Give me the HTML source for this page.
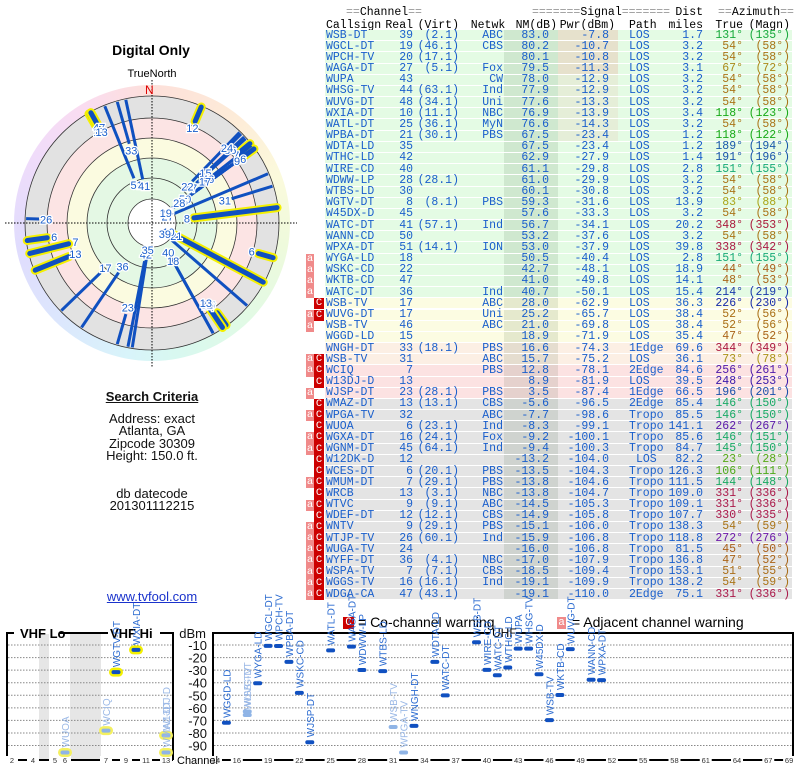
<!DOCTYPE html>
<html><head><meta charset="utf-8">
<style>
body{margin:0;width:800px;height:768px;overflow:hidden;background:#fff;font-family:"Liberation Sans",sans-serif;position:relative}
.abs{position:absolute;white-space:nowrap}
.mono{font-family:"Liberation Mono",monospace;font-size:11.5px}
.ctr{transform:translateX(-50%);text-align:center}
.info{font-size:13px;color:#111;line-height:12.3px}
</style></head><body>
<script>
const callsigns=["WSB-DT","WGCL-DT","WPCH-TV","WAGA-DT","WUPA","WHSG-TV","WUVG-DT","WXIA-DT","WATL-DT","WPBA-DT","WDTA-LD","WTHC-LD","WIRE-CD","WDWW-LP","WTBS-LD","WGTV-DT","W45DX-D","WATC-DT","WANN-CD","WPXA-DT","WYGA-LD","WSKC-CD","WKTB-CD","WATC-DT","WSB-TV","WUVG-DT","WSB-TV","WGGD-LD","WNGH-DT","WSB-TV","WCIQ","W13DJ-D","WJSP-DT","WMAZ-DT","WPGA-TV","WUOA","WGXA-DT","WGNM-DT","W12DK-D","WCES-DT","WMUM-DT","WRCB","WTVC","WDEF-DT","WNTV","WTJP-TV","WUGA-TV","WYFF-DT","WSPA-TV","WGGS-TV","WDGA-CA"];
const realCh=[39,19,20,27,43,44,48,10,25,21,35,42,40,28,30,8,45,41,50,51,18,22,47,36,17,17,46,15,33,31,7,13,23,13,32,6,16,45,12,6,7,13,9,12,9,26,24,36,7,16,47];
const virtCh=["(2.1)","(46.1)","(17.1)","(5.1)","","(63.1)","(34.1)","(11.1)","(36.1)","(30.1)","","","","(28.1)","","(8.1)","","(57.1)","","(14.1)","","","","","","","","","(18.1)","","","","(28.1)","(13.1)","","(23.1)","(24.1)","(64.1)","","(20.1)","(29.1)","(3.1)","(9.1)","(12.1)","(29.1)","(60.1)","","(4.1)","(7.1)","(16.1)","(43.1)"];
const networks=["ABC","CBS","","Fox","CW","Ind","Uni","NBC","MyN","PBS","","","","","","PBS","","Ind","","ION","","","","Ind","ABC","Uni","ABC","","PBS","ABC","PBS","","PBS","CBS","ABC","Ind","Fox","Ind","","PBS","PBS","NBC","ABC","CBS","PBS","Ind","","NBC","CBS","Ind",""];
const nmDb=[83.0,80.2,80.1,79.5,78.0,77.9,77.6,76.9,76.6,67.5,67.5,62.9,61.1,61.0,60.1,59.3,57.6,56.7,53.2,53.0,50.5,42.7,41.0,40.7,28.0,25.2,21.0,18.9,16.6,15.7,12.8,8.9,3.5,-5.6,-7.7,-8.3,-9.2,-9.4,-13.2,-13.5,-13.8,-13.8,-14.5,-14.9,-15.1,-15.9,-16.0,-17.0,-18.5,-19.1,-19.1];
const pwrDbm=[-7.8,-10.7,-10.8,-11.3,-12.9,-12.9,-13.3,-13.9,-14.3,-23.4,-23.4,-27.9,-29.8,-29.9,-30.8,-31.6,-33.3,-34.1,-37.6,-37.9,-40.4,-48.1,-49.8,-50.1,-62.9,-65.7,-69.8,-71.9,-74.3,-75.2,-78.1,-81.9,-87.4,-96.5,-98.6,-99.1,-100.1,-100.3,-104.0,-104.3,-104.6,-104.7,-105.3,-105.8,-106.0,-106.8,-106.8,-107.9,-109.4,-109.9,-110.0];
const paths=["LOS","LOS","LOS","LOS","LOS","LOS","LOS","LOS","LOS","LOS","LOS","LOS","LOS","LOS","LOS","LOS","LOS","LOS","LOS","LOS","LOS","LOS","LOS","LOS","LOS","LOS","LOS","LOS","1Edge","LOS","2Edge","LOS","1Edge","2Edge","Tropo","Tropo","Tropo","Tropo","LOS","Tropo","Tropo","Tropo","Tropo","Tropo","Tropo","Tropo","Tropo","Tropo","Tropo","Tropo","2Edge"];
const distMi=[1.7,3.2,3.2,3.1,3.2,3.2,3.2,3.4,3.2,1.2,1.2,1.4,2.8,3.2,3.2,13.9,3.2,20.2,3.2,39.8,2.8,18.9,14.1,15.4,36.3,38.4,38.4,35.4,69.6,36.1,84.6,39.5,66.5,85.4,85.5,141.1,85.6,84.7,82.2,126.3,111.5,109.0,109.1,107.7,138.3,118.8,81.5,136.8,153.1,138.2,75.1];
const azTrue=[131,54,54,67,54,54,54,118,54,118,189,191,151,54,54,83,54,348,54,338,151,44,48,214,226,52,52,47,344,73,256,248,196,146,146,262,146,145,23,106,144,331,331,330,54,272,45,47,51,54,331];
const azMagn=[135,58,58,72,58,58,58,123,58,122,194,196,155,58,58,88,58,353,58,342,155,49,53,219,230,56,56,52,349,78,261,253,201,150,150,267,151,150,28,111,148,336,336,335,59,276,50,52,55,59,336];
const warnings=["","","","","","","","","","","","","","","","","","","","","a","a","a","a","C","aC","a","","","aC","aC","C","a","C","aC","C","aC","aC","C","C","aC","C","aC","C","aC","aC","aC","aC","aC","aC","aC"];
const dbmTicks=[-10,-20,-30,-40,-50,-60,-70,-80,-90];
const vhfTicks=[2,4,5,6,7,9,11,13];
const uhfTicks=[14,16,19,22,25,28,31,34,37,40,43,46,49,52,55,58,61,64,67,69];
</script>

<div class="abs ctr" style="left:151px;top:42px;font-size:14px;font-weight:bold">Digital Only</div>
<div class="abs ctr" style="left:152px;top:68px;font-size:11px">TrueNorth</div>
<div class="abs" style="left:14px;top:85px;width:276px;height:276px;border-radius:50%;background:conic-gradient(#fde0da,#fdecd8 40deg,#fbfadc 70deg,#eefadc 100deg,#e0fae6 140deg,#d8f8f0 170deg,#d8f4fa 190deg,#dce6fd 225deg,#e0dcfd 260deg,#f0dcfa 300deg,#fadcf0 330deg,#fde0da)"></div>
<svg class="abs" style="left:0;top:0" width="300" height="370" id="polar"></svg>

<div class="abs info ctr" style="left:152px;top:391px;font-weight:bold;text-decoration:underline">Search Criteria</div>
<div class="abs info ctr" style="left:152px;top:413px">Address: exact<br>Atlanta, GA<br>Zipcode 30309<br>Height: 150.0 ft.</div>
<div class="abs info ctr" style="left:152px;top:488px">db datecode<br>201301112215</div>
<div class="abs info ctr" style="left:152px;top:591px;color:#1a33cc;text-decoration:underline">www.tvfool.com</div>

<div id="table"></div>

<div class="abs" style="left:343px;top:617px;width:11px;height:12px;background:#c00;color:#fff;font-size:11px;line-height:12px;text-align:center;font-family:'Liberation Mono',monospace">C</div>
<div class="abs" style="left:358px;top:614px;font-size:14px">= Co-channel warning</div>
<div class="abs" style="left:557px;top:617px;width:9px;height:12px;background:#f08a8a;color:#fff;font-size:11px;line-height:12px;text-align:center;font-family:'Liberation Mono',monospace">a</div>
<div class="abs" style="left:572px;top:614px;font-size:14px">= Adjacent channel warning</div>

<svg class="abs" style="left:0;top:0" width="800" height="768" id="spec"></svg>

<script>
const NS="http://www.w3.org/2000/svg";
function mk(parent,tag,attrs,text){const e=document.createElementNS(NS,tag);for(const k in attrs)e.setAttribute(k,attrs[k]);if(text!==undefined)e.textContent=text;parent.appendChild(e);return e;}
function hueFor(a){const pts=[[0,350],[30,15],[54,38],[83,58],[118,120],[146,152],[190,215],[226,232],[256,262],[272,275],[331,340],[360,350]];for(let i=0;i<pts.length-1;i++){if(a>=pts[i][0]&&a<=pts[i+1][0]){const t=(a-pts[i][0])/(pts[i+1][0]-pts[i][0]);return pts[i][1]+t*(pts[i+1][1]-pts[i][1]);}}return 0;}
function azColor(a){const h=hueFor(a);return `hsl(${h},75%,38%)`;}

/* ---------- table ---------- */
const tbl=document.getElementById('table');
function txt(x,y,s,opts){const d=document.createElement('div');d.className='abs mono';d.style.top=y+'px';d.textContent=s;if(opts.right!==undefined){d.style.left=(opts.right-200)+'px';d.style.width='200px';d.style.textAlign='right';}else if(opts.center!==undefined){d.style.left=(opts.center-50)+'px';d.style.width='100px';d.style.textAlign='center';}else d.style.left=x+'px';if(opts.color)d.style.color=opts.color;tbl.appendChild(d);return d;}
let h;
h=txt(0,6,'==Channel==',{center:384});h.innerHTML='<span style="color:#999">==</span>Channel<span style="color:#999">==</span>';
h=txt(0,6,'',{center:582});h.innerHTML='<span style="color:#999">=======</span>Signal<span style="color:#999">=======</span>';
h=txt(0,6,'Dist',{right:703});
h=txt(0,6,'',{center:756});h.innerHTML='<span style="color:#999">==</span>Azimuth<span style="color:#999">==</span>';
const heads=[['Callsign',{},326,'callsign-header'],['Real',{right:413},0,'real-header'],['(Virt)',{right:459},0,'virt-header'],['Netwk',{center:488},0,'netwk-header'],['NM(dB)',{right:557},0,'nm-header'],['Pwr(dBm)',{right:615},0,'pwr-header'],['Path',{left:629},629,'path-header'],['miles',{right:703},0,'miles-header'],['True',{right:743},0,'true-header'],['(Magn)',{right:790},0,'magn-header']];
heads.forEach(([s,o,x,n])=>{const e=txt(x,19,s,o.left?{}:o);});
const RH=11.18;
function rowBg(nm){if(nm>=30)return '#e4fbe4';if(nm>=18)return '#fcfce2';if(nm>=15)return '#fcefe4';if(nm>=0)return '#fce2e2';return '#e4e4e4';}
for(let i=0;i<callsigns.length;i++){
  const y=30+i*RH;
  const bg=document.createElement('div');bg.className='abs';
  
  
  bg.style.cssText=`left:325px;top:${y}px;width:467px;height:${RH-1}px;background:${rowBg(nmDb[i])};`;
  tbl.appendChild(bg);
  const nmc=document.createElement('div');nmc.className='abs';
  
  
  nmc.style.cssText=`left:504px;top:${y}px;width:54px;height:${RH-1}px;background:rgba(0,40,0,0.09);`;tbl.appendChild(nmc);
  if(i<10){const pc=document.createElement('div');pc.className='abs';
    
    
    pc.style.cssText=`left:558px;top:${y}px;width:60px;height:${RH-1}px;background:rgba(255,0,0,${i<4?0.1:0.05});`;tbl.appendChild(pc);}
  const w=warnings[i];
  if(w.includes('a')){const a=document.createElement('div');a.className='abs mono';a.textContent='a';
    
    
    a.style.cssText=`left:306px;top:${y}px;width:8px;height:${RH}px;background:#f08a8a;color:#fff;line-height:${RH}px;text-align:center;font-size:10.5px`;tbl.appendChild(a);}
  if(w.includes('C')){const c=document.createElement('div');c.className='abs mono';c.textContent='C';
    
    
    c.style.cssText=`left:314px;top:${y}px;width:10px;height:${RH}px;background:#c00;color:#fff;line-height:${RH}px;text-align:center;font-size:10.5px`;tbl.appendChild(c);}
  const blue='#1a5fcc';const ty=y-1.5;
  let e;
  e=txt(326,ty,callsigns[i],{color:blue});
  e=txt(0,ty,String(realCh[i]),{right:413,color:blue});
  e=txt(0,ty,virtCh[i],{right:459,color:blue});
  e=txt(0,ty,networks[i],{right:503,color:blue});
  e=txt(0,ty,nmDb[i].toFixed(1),{right:549,color:blue});
  e=txt(0,ty,pwrDbm[i].toFixed(1),{right:609,color:blue});
  e=txt(paths[i]==='LOS'&&i===38?636:629,ty,paths[i],{color:blue});
  e=txt(0,ty,distMi[i].toFixed(1),{right:703,color:blue});
  const col=azColor(azTrue[i]);
  e=txt(0,ty,azTrue[i]+'°',{right:743,color:col});
  e=txt(0,ty,'('+azMagn[i]+'°)',{right:790,color:col});
}

/* ---------- polar chart ---------- */
const P=document.getElementById('polar');const cx=152,cy=223;
[[127,'#e2e2e2'],[105,'#fce4e4'],[85,'#fbfbe0'],[65,'#e4f8e4'],[24,'#ffffff']].forEach(([r,f])=>{const c=mk(P,'circle',{cx,cy,r,fill:f});});
[24,45,65,85,105,127].forEach(r=>{const c=mk(P,'circle',{cx,cy,r,fill:'none',stroke:'#333','stroke-width':0.8});});
let ax=mk(P,'line',{x1:cx,y1:80,x2:cx,y2:368,stroke:'#000','stroke-dasharray':'1.5,1.5','stroke-width':1});
ax=mk(P,'line',{x1:5,y1:cy,x2:297,y2:cy,stroke:'#000','stroke-dasharray':'1.5,1.5','stroke-width':1});
const nl=mk(P,'text',{x:cx-7,y:94,'font-size':12,fill:'#d00'},'N');
function pol(r,a){const t=a*Math.PI/180;return [cx+r*Math.sin(t),cy-r*Math.cos(t)];}
function rStart(nm){return Math.max(24,Math.min(120,98-0.94*nm));}
const order=[...callsigns.keys()].reverse();
order.forEach(i=>{
  const r0=rStart(nmDb[i]);const [x0,y0]=pol(r0,azTrue[i]);const [x1,y1]=pol(126,azTrue[i]);
  if(realCh[i]<=13){const hl=mk(P,'line',{x1:x0,y1:y0,x2:x1,y2:y1,stroke:'#f4f000','stroke-width':9,'stroke-linecap':'round'});}
  const ln=mk(P,'line',{x1:x0,y1:y0,x2:x1,y2:y1,stroke:'#1050c0','stroke-width':realCh[i]<=13?5:3,'stroke-linecap':realCh[i]<=13?'round':'butt'});
  
  
});
order.forEach(i=>{
  const [lx,ly]=pol(rStart(nmDb[i])-7,azTrue[i]);
  const t=mk(P,'text',{x:lx,y:ly+4,'font-size':11,fill:'#1a5fcc','text-anchor':'middle',stroke:'#fff','stroke-width':2.5,'paint-order':'stroke'},String(realCh[i]));
  
  
});

/* ---------- spectrum chart ---------- */
const S=document.getElementById('spec');
function vx(ch){if(ch<=4)return 12+(ch-2)*10.5;if(ch<=6)return 55+(ch-5)*10;return 106+(ch-7)*10;}
function ux(ch){return 216+(ch-14)*10.42;}
function yv(v){v=Math.max(-95.5,Math.min(-6,v));return 645+(-10-v)*1.257;}
let r=mk(S,'rect',{x:39,y:634,width:10,height:125,fill:'#e6e6e6'});
r=mk(S,'rect',{x:70,y:634,width:31,height:125,fill:'#e6e6e6'});
dbmTicks.forEach(v=>{const y=yv(v);
  let g=mk(S,'line',{x1:8,y1:y,x2:172,y2:y,stroke:'#888','stroke-dasharray':'1.5,1.5'});
  g=mk(S,'line',{x1:214,y1:y,x2:792,y2:y,stroke:'#888','stroke-dasharray':'1.5,1.5'});
  const t=mk(S,'text',{x:207,y:y+5,'font-size':13,'text-anchor':'end',fill:'#111'},String(v));
});
let u=mk(S,'text',{x:206,y:638,'font-size':13,'text-anchor':'end',fill:'#111'},'dBm');
let b=mk(S,'path',{d:'M7,760 V633 H14 M60,633 H108 M160,633 H173 V760',fill:'none',stroke:'#000','stroke-width':2});
b=mk(S,'path',{d:'M213,760 V633 H490 M516,633 H793 V760',fill:'none',stroke:'#000','stroke-width':2});
u=mk(S,'text',{x:20,y:638,'font-size':13,'font-weight':'bold'},'VHF Lo');
u=mk(S,'text',{x:110,y:638,'font-size':13,'font-weight':'bold'},'VHF Hi');
u=mk(S,'text',{x:492,y:637,'font-size':12},'UHF');
let a1=mk(S,'line',{x1:7,y1:760,x2:173,y2:760,stroke:'#000','stroke-width':2});
a1=mk(S,'line',{x1:213,y1:760,x2:793,y2:760,stroke:'#000','stroke-width':2});
function tick(x,s){const bg=mk(S,'rect',{x:x-6,y:756,width:12,height:8,fill:'#fff'});
  const t=mk(S,'text',{x,y:763,'font-size':7.5,'text-anchor':'middle',fill:'#333'},s);}
vhfTicks.forEach(c=>tick(vx(c),String(c)));
uhfTicks.forEach(c=>tick(ux(c),String(c)));
const cbg=mk(S,'rect',{x:176,y:755,width:36,height:11,fill:'#fff'});
u=mk(S,'text',{x:177,y:764,'font-size':11},'Channel');
for(let i=0;i<callsigns.length;i++){
  if(pwrDbm[i]<-99.5)continue;
  const ch=realCh[i];const x=ch<=13?vx(ch):ux(ch);const y=yv(pwrDbm[i]);
  const faded=warnings[i].includes('C');const col=faded?'#8fb4e6':'#1050c0';const tcol=faded?'#9ab8e6':'#2a6ad0';
  if(ch<=13){const hl=mk(S,'rect',{x:x-7,y:y-4.5,width:14,height:9,rx:4.5,fill:faded?'#f4f060':'#f4f000'});}
  const m=mk(S,'rect',{x:x-4.5,y:y-2,width:9,height:4,rx:2,fill:col});
  
  
  const t=mk(S,'text',{x:x+4,y:y-5,'font-size':10,fill:tcol,transform:`rotate(-90 ${x+4} ${y-5})`},callsigns[i]);
  
  
}
</script>
</body></html>
